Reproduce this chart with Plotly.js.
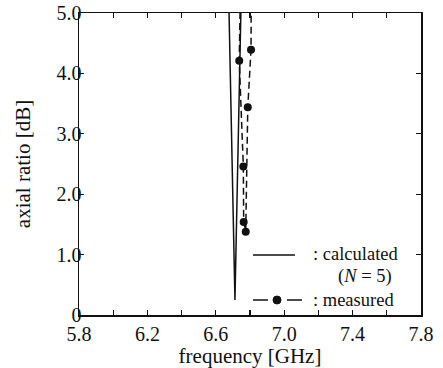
<!DOCTYPE html>
<html><head><meta charset="utf-8">
<script src="https://cdn.plot.ly/plotly-3.0.1.min.js"></script>
<style>html,body{margin:0;padding:0;background:#fff}#c{width:443px;height:368px}</style>
</head><body><div id="c"></div>
<script>
// calculated (N = 5)
const calcFreq = [6.676, 6.712, 6.748];
const calcAR   = [5.2, 0.25, 5.2];
// measured
const measFreq = [6.737, 6.761, 6.763, 6.775, 6.787, 6.806];
const measAR   = [4.21, 2.46, 1.54, 1.38, 3.44, 4.39];
// dashed line through the measured points, running past the top of the plot
const measLineFreq = [6.743, 6.737, 6.761, 6.763, 6.775, 6.787, 6.806, 6.807];
const measLineAR   = [5.2, 4.21, 2.46, 1.54, 1.38, 3.44, 4.39, 5.2];
const xTicks = [5.8, 6.2, 6.6, 7.0, 7.4, 7.8];
const xTickText = ["5.8", "6.2", "6.6", "7.0", "7.4", "7.8"];
const yTicks = [0, 1, 2, 3, 4, 5];
const yTickText = ["0", "1.0", "2.0", "3.0", "4.0", "5.0"];

const fam = "Liberation Serif, Times New Roman, serif";
const F = s => ({family: fam, size: s, color: "#111"});
const traces = [
  {x: calcFreq, y: calcAR, mode: "lines", line: {color: "#111", width: 1.5}, showlegend: false},
  {x: measLineFreq, y: measLineAR, mode: "lines", line: {color: "#111", width: 1.5, dash: "7px,4px"}, showlegend: false},
  {x: measFreq, y: measAR, mode: "markers", marker: {color: "#111", size: 8}, showlegend: false}
];
const px = v => (v - 79) / 342;
const py = v => (315 - v) / 302;
const layout = {
  width: 443, height: 368,
  margin: {l: 79, r: 22, t: 13, b: 53},
  paper_bgcolor: "#fff", plot_bgcolor: "#fff",
  font: F(20),
  xaxis: {
    range: [5.8, 7.8], tickvals: xTicks, ticktext: xTickText,
    ticks: "inside", ticklen: 5, tickwidth: 1.3, tickcolor: "#111",
    minor: {dtick: 0.2, tick0: 5.8, ticks: "inside", ticklen: 5, tickcolor: "#111", tickwidth: 1.3},
    showline: true, linecolor: "#111", linewidth: 1.5, mirror: "allticks",
    showgrid: false, zeroline: false,
    tickfont: F(20),
    title: {text: "frequency [GHz]", font: F(21), standoff: 6}
  },
  yaxis: {
    range: [0, 5], tickvals: yTicks, ticktext: yTickText,
    ticks: "inside", ticklen: 5, tickwidth: 1.3, tickcolor: "#111",
    ticklabelstandoff: -8,
    showline: true, linecolor: "#111", linewidth: 1.5, mirror: "allticks",
    showgrid: false, zeroline: false,
    tickfont: F(20),
    title: {text: "axial ratio [dB]", font: F(21), standoff: 20}
  },
  shapes: [
    {type: "line", xref: "paper", yref: "paper", x0: px(253), x1: px(295), y0: py(255), y1: py(255), line: {color: "#111", width: 1.5}},
    {type: "line", xref: "paper", yref: "paper", x0: px(253), x1: px(268), y0: py(300), y1: py(300), line: {color: "#111", width: 1.5}},
    {type: "line", xref: "paper", yref: "paper", x0: px(287), x1: px(302), y0: py(300), y1: py(300), line: {color: "#111", width: 1.5}},
    {type: "circle", xref: "paper", yref: "paper", xsizemode: "pixel", ysizemode: "pixel",
     xanchor: px(277), yanchor: py(300), x0: -4, x1: 4, y0: -4, y1: 4,
     fillcolor: "#111", line: {color: "#111", width: 1}}
  ],
  annotations: [
    {xref: "paper", yref: "paper", x: px(311), y: py(254), xanchor: "left", yanchor: "middle", text: ": calculated", showarrow: false, font: F(18.5)},
    {xref: "paper", yref: "paper", x: px(336), y: py(276), xanchor: "left", yanchor: "middle", text: "(<i>N</i> = 5)", showarrow: false, font: F(18.5)},
    {xref: "paper", yref: "paper", x: px(311), y: py(300), xanchor: "left", yanchor: "middle", text: ": measured", showarrow: false, font: F(18.5)}
  ]
};
Plotly.newPlot("c", traces, layout, {displayModeBar: false, staticPlot: true});
</script></body></html>
